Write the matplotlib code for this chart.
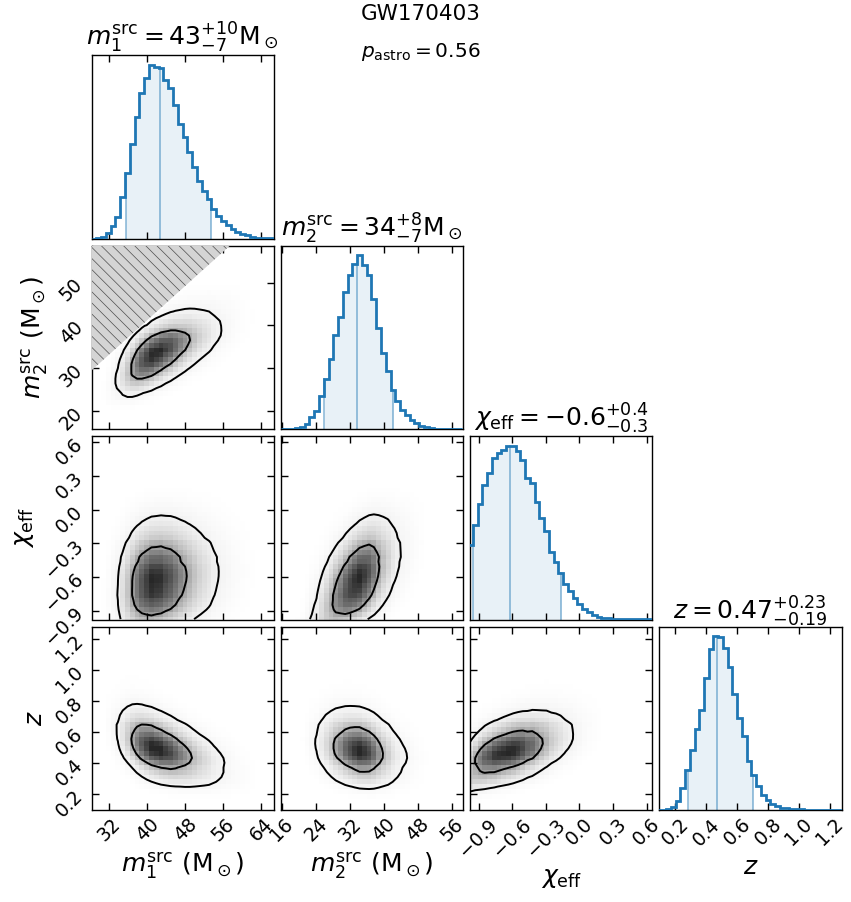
import numpy as np
import matplotlib
matplotlib.use("Agg")
import matplotlib.pyplot as plt

# ------------------------------------------------------------------ data
event_name = "GW170403"
p_astro = 0.56

axis_labels = [r"$m_1^{\rm src}\ ({\rm M}_\odot)$",
               r"$m_2^{\rm src}\ ({\rm M}_\odot)$",
               r"$\chi_{\rm eff}$",
               r"$z$"]
diag_titles = [r"$m_1^{\rm src} = 43^{+10}_{-7}{\rm M}_\odot$",
               r"$m_2^{\rm src} = 34^{+8}_{-7}{\rm M}_\odot$",
               r"$\chi_{\rm eff} = -0.6^{+0.4}_{-0.3}$",
               r"$z = 0.47^{+0.23}_{-0.19}$"]

# histogram bins (start, width) and bin heights
m1_bin_start, m1_bin_width = 28.25, 1.012
m1_hist = [0, 2, 5, 18, 38, 65, 123, 196, 283, 363, 433, 478, 518, 511, 510,
           473, 448, 398, 343, 303, 258, 213, 173, 143, 118, 88, 68, 53, 40,
           28, 21, 15, 10, 6, 3, 2, 2, 1]
m2_bin_start, m2_bin_width = 15.75, 1.122
m2_hist = [0, 0, 1, 2, 5, 15, 35, 53, 98, 150, 210, 280, 335, 408, 458, 493,
           518, 490, 458, 388, 300, 228, 173, 118, 83, 58, 43, 28, 18, 10, 5,
           2, 1, 0, 0, 0, 0, 0]
chi_bin_start, chi_bin_width = -0.993, 0.0424
chi_hist = [222, 282, 347, 404, 437, 482, 497, 507, 520, 520, 504, 477, 424,
            410, 352, 304, 264, 202, 172, 139, 107, 85, 64, 47, 32, 22, 14, 8,
            5, 3, 2, 1, 1, 0.5, 0.5, 0.3, 0.2, 0.2, 0.2]
z_bin_start, z_bin_width = 0.078, 0.03067
z_hist = [0, 0, 3, 10, 27, 65, 120, 178, 240, 297, 393, 480, 517, 515, 483,
          425, 345, 275, 220, 145, 105, 70, 45, 30, 18, 12, 7, 5, 4, 3, 2, 1,
          1, 1, 0.5, 0.5, 0.5, 0.5, 0.5, 0.5]

# 5%, 50%, 95% quantiles
m1_quant = [35.5, 42.8, 53.4]
m2_quant = [26.0, 33.7, 42.1]
chi_quant = [-0.95, -0.62, -0.165]
z_quant = [0.283, 0.47, 0.70]

# axis ranges and ticks
m1_lim, m1_ticks = (28.25, 66.7), [32, 40, 48, 56, 64]
m2_lim = (15.75, 58.6)
m2_xticks = [16, 24, 32, 40, 48, 56]
m2_yticks = [20, 30, 40, 50]
chi_lim, chi_ticks = (-0.975, 0.65), [-0.9, -0.6, -0.3, 0.0, 0.3, 0.6]
z_lim, z_ticks = (0.096, 1.276), [0.2, 0.4, 0.6, 0.8, 1.0, 1.2]

# pairwise correlation (read from the tilt of the 2-D densities)
pair_corr = {(0, 1): 0.6, (0, 2): 0.12, (1, 2): 0.45,
             (0, 3): -0.45, (1, 3): -0.2, (2, 3): 0.45}
cred_levels = [0.5, 0.9]

# ------------------------------------------------------------------ helpers
hists = [np.array(m1_hist, float), np.array(m2_hist, float),
         np.array(chi_hist, float), np.array(z_hist, float)]
starts = [m1_bin_start, m2_bin_start, chi_bin_start, z_bin_start]
widths = [m1_bin_width, m2_bin_width, chi_bin_width, z_bin_width]
edges = [s + w * np.arange(len(h) + 1) for s, w, h in zip(starts, widths, hists)]
centers = [0.5 * (e[1:] + e[:-1]) for e in edges]
quants = [m1_quant, m2_quant, chi_quant, z_quant]
lims = [m1_lim, m2_lim, chi_lim, z_lim]
xticks = [m1_ticks, m2_xticks, chi_ticks, z_ticks]
yticks = [m1_ticks, m2_yticks, chi_ticks, z_ticks]

_zg = np.linspace(-8, 8, 4001)
_cdf = np.cumsum(np.exp(-0.5 * _zg ** 2))
_cdf /= _cdf[-1]


def norm_ppf(p):
    return np.interp(p, _cdf, _zg)


def marginal_scores(h):
    c = np.cumsum(h)
    u = (c - 0.5 * h) / c[-1]
    return norm_ppf(np.clip(u, 1e-6, 1 - 1e-6))


def density2d(ix, iy, r):
    a = marginal_scores(hists[ix])
    b = marginal_scores(hists[iy])
    A, B = np.meshgrid(a, b)
    cop = np.exp(-(r * r * (A * A + B * B) - 2 * r * A * B) / (2 * (1 - r * r)))
    D = np.outer(hists[iy], hists[ix]) * cop
    if (ix, iy) == (0, 1):
        X, Y = np.meshgrid(centers[0], centers[1])
        D[Y > X + 1.0] = 0.0
    return D


def cred_thresholds(D, probs):
    flat = np.sort(D.ravel())[::-1]
    cum = np.cumsum(flat)
    cum /= cum[-1]
    th = [flat[min(np.searchsorted(cum, p), len(flat) - 1)] for p in probs]
    return sorted(th)


# ------------------------------------------------------------------ figure
W, H = 851, 902
fig = plt.figure(figsize=(W / 100, H / 100), dpi=100)
plt.rcParams["hatch.linewidth"] = 0.5

col_left = [91.5, 280.8, 470.1, 659.4]
row_top = [55.3, 245.8, 436.2, 626.7]
aw, ah = 182.3, 183.3

blue = "#1f77b4"
tick_fs = 13.5
label_fs = 18
title_fs = 18

n = 4
for row in range(n):
    for col in range(n):
        if col > row:
            continue
        ax = fig.add_axes([col_left[col] / W, 1 - (row_top[row] + ah) / H,
                           aw / W, ah / H])
        for s in ax.spines.values():
            s.set_linewidth(1.0)
        ax.tick_params(direction="in", length=5, width=1.0,
                       top=True, bottom=True, left=True, right=True,
                       labelsize=tick_fs)
        if row == col:
            h = hists[col]
            e = edges[col]
            ax.stairs(h, e, color=blue, linewidth=2.0, zorder=3)
            lo, med, hi = quants[col]
            xs = np.linspace(lo, hi, 400)
            idx = np.clip(np.searchsorted(e, xs, side="right") - 1, 0, len(h) - 1)
            ax.fill_between(xs, 0, h[idx], color=blue, alpha=0.1, linewidth=0)
            for q in (lo, med, hi):
                k = np.clip(np.searchsorted(e, q, side="right") - 1, 0, len(h) - 1)
                ax.plot([q, q], [0, h[k]], color=blue, alpha=0.5, lw=1.2, zorder=2)
            ax.set_xlim(lims[col])
            ax.set_ylim(0, 1.055 * h.max())
            ax.set_yticks([])
            ax.tick_params(left=False, right=False)
            ax.set_xticks(xticks[col])
            ax.set_title(diag_titles[col], fontsize=title_fs, pad=5)
        else:
            D = density2d(col, row, pair_corr[(col, row)])
            ax.pcolormesh(edges[col], edges[row], D, cmap="Greys",
                          vmin=0, vmax=1.15 * D.max(), shading="flat",
                          rasterized=True, zorder=1)
            th = cred_thresholds(D, cred_levels[::-1])
            ax.contour(centers[col], centers[row], D, levels=th,
                       colors="k", linewidths=1.4, zorder=4)
            if (col, row) == (0, 1):
                top = lims[1][1]
                xx = np.array([lims[0][0], top])
                ax.fill_between(xx, xx + 1.2, top + 5, facecolor="0.83",
                                edgecolor="0.3", hatch="\\\\\\",
                                linewidth=0, zorder=3)
            ax.set_xlim(lims[col])
            ax.set_ylim(lims[row])
            ax.set_xticks(xticks[col])
            ax.set_yticks(yticks[row])
        if row == n - 1:
            for lab in ax.get_xticklabels():
                lab.set_rotation(45)
            ax.set_xlabel(axis_labels[col], fontsize=label_fs)
        else:
            ax.tick_params(labelbottom=False)
        if col == 0 and row > 0:
            for lab in ax.get_yticklabels():
                lab.set_rotation(45)
            ax.set_ylabel(axis_labels[row], fontsize=label_fs)
        else:
            ax.tick_params(labelleft=False)

fig.text(421 / W, 1 - 14 / H, event_name, ha="center", va="center", fontsize=15.5)
fig.text(421 / W, 1 - 52 / H, r"$p_{\rm astro} = %.2f$" % p_astro,
         ha="center", va="center", fontsize=14.5)

fig.savefig("out.png", dpi=100)
